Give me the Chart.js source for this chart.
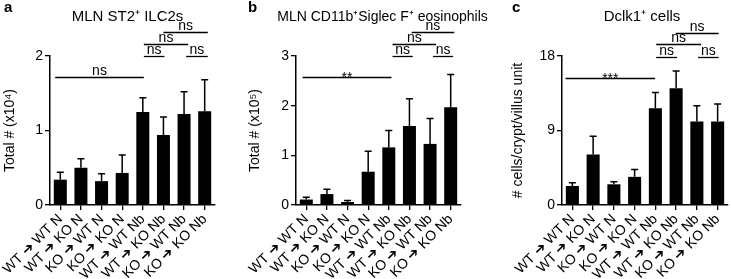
<!DOCTYPE html>
<html lang="en">
<head>
<meta charset="UTF-8" />
<title>MLN ILC2s, eosinophils and Dclk1+ cells</title>
<script src="https://cdn.jsdelivr.net/npm/chart.js@4.4.0/dist/chart.umd.min.js"></script>
<style>
    body { margin: 0; background: #fff; }
    .wrap { position: relative; width: 731px; height: 279px; overflow: hidden; }
    .panel { position: absolute; top: 0; }
    .letter {
        position: absolute; top: -2px;
        font-family: 'Liberation Sans', Arial, sans-serif;
        font-weight: bold; font-size: 15px; color: #000;
    }
</style>
</head>
<body>
<div class="wrap">
    <canvas id="chartA" class="panel" style="left:0px" width="245" height="279"></canvas>
    <canvas id="chartB" class="panel" style="left:245px" width="245" height="279"></canvas>
    <canvas id="chartC" class="panel" style="left:490px" width="241" height="279"></canvas>
    <div class="letter" style="left:4px">a</div>
    <div class="letter" style="left:248px">b</div>
    <div class="letter" style="left:512px">c</div>
</div>

<script>
// groups (donor ➔ recipient, N = naive, Nb = N. brasiliensis)
const categories = ['WT ➔ WT N', 'WT ➔ KO N', 'KO ➔ WT N', 'KO ➔ KO N',
                    'WT ➔ WT Nb', 'WT ➔ KO Nb', 'KO ➔ WT Nb', 'KO ➔ KO Nb'];

// a: MLN ST2+ ILC2s (x10^4)
const ilc2Mean = [0.34, 0.50, 0.32, 0.43, 1.25, 0.94, 1.22, 1.26];
const ilc2Err  = [0.10, 0.12, 0.10, 0.24, 0.19, 0.24, 0.30, 0.42];

// b: MLN CD11b+ Siglec F+ eosinophils (x10^5)
const eosMean = [0.11, 0.22, 0.06, 0.67, 1.16, 1.59, 1.23, 1.97];
const eosErr  = [0.045, 0.095, 0.03, 0.41, 0.34, 0.55, 0.51, 0.66];

// c: Dclk1+ cells per crypt/villus unit
const dclkMean = [2.3, 6.1, 2.5, 3.4, 11.7, 14.1, 10.1, 10.1];
const dclkErr  = [0.4, 2.2, 0.3, 0.9, 1.9, 2.1, 1.9, 2.1];

// significance bars: [from group, to group, y value, label]
const ilc2Sig = [[-0.25, 4.05, 1.72, 'ns'], [4.05, 5.05, 2.0, 'ns'], [6.1, 7.15, 2.0, 'ns'],
                 [4.05, 6.2, 2.16, 'ns'], [5.0, 7.15, 2.32, 'ns']];
const eosSig  = [[-0.18, 4.13, 2.58, '**'], [4.18, 5.16, 2.99, 'ns'], [6.14, 7.12, 2.99, 'ns'],
                 [4.18, 6.29, 3.25, 'ns'], [5.11, 7.17, 3.48, 'ns']];
const dclkSig = [[-0.33, 3.99, 15.36, '***'], [4.04, 5.04, 17.85, 'ns'], [6.06, 7.05, 17.85, 'ns'],
                 [4.04, 6.2, 19.4, 'ns'], [4.98, 7.05, 20.8, 'ns']];

const FONT = "'Liberation Sans', Arial, sans-serif";
Chart.defaults.font.family = FONT;
Chart.defaults.color = '#000';

// upper error bars with caps
const errorBars = {
    id: 'errorBars',
    afterDatasetsDraw(chart, args, opts) {
        const ctx = chart.ctx;
        const y = chart.scales.y;
        const meta = chart.getDatasetMeta(0);
        ctx.save();
        ctx.strokeStyle = '#000';
        ctx.lineWidth = 1.5;
        meta.data.forEach((bar, i) => {
            const top = y.getPixelForValue(opts.mean[i] + opts.err[i]);
            ctx.beginPath();
            ctx.moveTo(bar.x, bar.y);
            ctx.lineTo(bar.x, top);
            ctx.moveTo(bar.x - 3.5, top);
            ctx.lineTo(bar.x + 3.5, top);
            ctx.stroke();
        });
        ctx.restore();
    }
};

// comparison lines with ns / asterisks, plus the panel title
const sigBars = {
    id: 'sigBars',
    afterDraw(chart, args, opts) {
        const ctx = chart.ctx;
        const x = chart.scales.x, y = chart.scales.y;
        const x0 = x.getPixelForValue(0);
        const step = x.getPixelForValue(1) - x0;
        const area = chart.chartArea;
        ctx.save();
        ctx.strokeStyle = '#000';
        ctx.fillStyle = '#000';
        ctx.lineWidth = 1.3;
        ctx.textAlign = 'center';
        ctx.textBaseline = 'alphabetic';

        ctx.font = opts.titleSize + 'px ' + FONT;
        ctx.fillText(opts.title, (area.left + area.right) / 2 + opts.titleShift, 21);

        ctx.font = '14px ' + FONT;
        opts.items.forEach(([a, b, v, label]) => {
            const xa = x0 + a * step, xb = x0 + b * step;
            const py = Math.round(y.getPixelForValue(v)) + 0.5;
            ctx.beginPath();
            ctx.moveTo(xa, py);
            ctx.lineTo(xb, py);
            ctx.stroke();
            const isStar = label.indexOf('*') >= 0;
            ctx.fillText(label, (xa + xb) / 2, py - (isStar ? -4 : 2.5));
        });
        ctx.restore();
    }
};

function makePanel(id, opt) {
    new Chart(document.getElementById(id), {
        type: 'bar',
        data: {
            labels: categories,
            datasets: [{
                data: opt.mean,
                backgroundColor: '#000',
                borderWidth: 0,
                categoryPercentage: 1,
                barPercentage: 0.63
            }]
        },
        plugins: [errorBars, sigBars],
        options: {
            responsive: false,
            animation: false,
            events: [],
            layout: { padding: { top: 56, bottom: 0, left: 0, right: opt.padRight } },
            plugins: {
                legend: { display: false },
                tooltip: { enabled: false },
                title: { display: false },
                errorBars: { mean: opt.mean, err: opt.err },
                sigBars: { items: opt.sig, title: opt.title, titleShift: opt.titleShift, titleSize: opt.titleSize }
            },
            scales: {
                x: {
                    offset: true,
                    grid: { offset: false, drawOnChartArea: false, drawTicks: true, tickLength: 5, color: '#000', lineWidth: 1.3 },
                    border: { color: '#000', width: 1.5 },
                    ticks: { autoSkip: false, minRotation: 45, maxRotation: 45, padding: 1, font: { size: 14 } },
                    afterFit(s) { s.height = 74; s.paddingLeft = 0; s.paddingRight = 0; }
                },
                y: {
                    min: 0,
                    max: opt.max,
                    ticks: { stepSize: opt.step, padding: 2, font: { size: 14 } },
                    grid: { drawOnChartArea: false, drawTicks: true, tickLength: 5, color: '#000', lineWidth: 1.3 },
                    border: { color: '#000', width: 1.5 },
                    title: { display: true, text: opt.yTitle, font: { size: 14 }, padding: { top: opt.yTitlePad, bottom: 0 } },
                    afterFit(s) { s.width = opt.left; s.paddingTop = 0; s.paddingBottom = 0; }
                }
            }
        }
    });
}

makePanel('chartA', {
    title: 'MLN ST2⁺ ILC2s', yTitle: 'Total # (x10⁴)',
    mean: ilc2Mean, err: ilc2Err, sig: ilc2Sig,
    max: 2, step: 1, left: 50, padRight: 30, yTitlePad: 2, titleShift: -5, titleSize: 15
});
makePanel('chartB', {
    title: 'MLN CD11b⁺Siglec F⁺ eosinophils', yTitle: 'Total # (x10⁵)',
    mean: eosMean, err: eosErr, sig: eosSig,
    max: 3, step: 1, left: 51, padRight: 29, yTitlePad: 2, titleShift: 4, titleSize: 14
});
makePanel('chartC', {
    title: 'Dclk1⁺ cells', yTitle: '# cells/crypt/villus unit',
    mean: dclkMean, err: dclkErr, sig: dclkSig,
    max: 18, step: 9, left: 72, padRight: 3, yTitlePad: 20, titleShift: -3, titleSize: 15
});
</script>
</body>
</html>
